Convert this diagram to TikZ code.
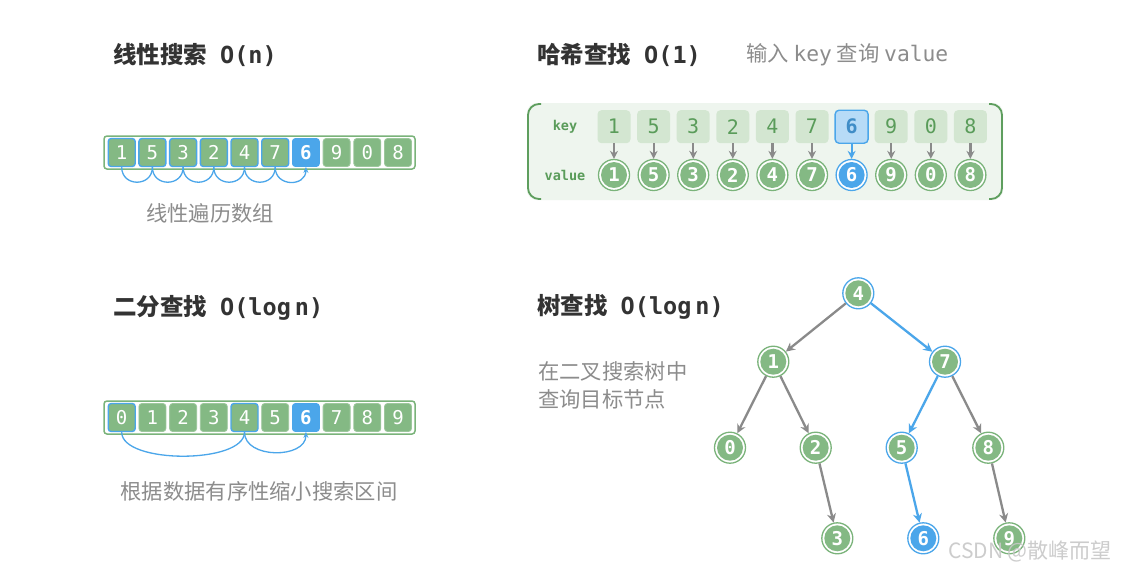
\documentclass[tikz,border=0pt]{standalone}
\usepackage{fontspec}
\setmainfont{Noto Sans CJK SC}
\newfontfamily\mono{DejaVu Sans Mono}
\usetikzlibrary{arrows.meta}
\definecolor{G}{HTML}{84B984}
\definecolor{Gline}{HTML}{7AB37A}
\definecolor{B}{HTML}{4BA6EA}
\definecolor{KeyFill}{HTML}{D3E6D1}
\definecolor{HashBg}{HTML}{EEF5EE}
\definecolor{HashBorder}{HTML}{5E9E5E}
\definecolor{KeyText}{HTML}{5A9C5A}
\definecolor{Arr}{HTML}{8A8A8A}
\definecolor{Title}{HTML}{333333}
\definecolor{Sub}{HTML}{8C8C8C}
\tikzset{
  title/.style={anchor=west, text=Title, font=\fontsize{23.5}{26}\selectfont\bfseries, inner sep=0pt},
  subtxt/.style={text=Sub, font=\fontsize{21.3}{27}\selectfont, inner sep=0pt},
  cell/.style={rectangle, rounded corners=3pt, minimum width=27pt, minimum height=28pt, inner sep=0pt,
     fill=G, draw=G!80!white, line width=0.8pt, text=white, font=\fontsize{19}{19}\selectfont\mono},
  vis/.style={cell, draw=B, line width=1.4pt},
  hit/.style={cell, fill=B, draw=B, font=\fontsize{19}{19}\selectfont\mono\bfseries},
  norm/.style={cell},
  outer/.style={draw=Gline, line width=1.5pt, fill=white, rounded corners=3pt},
  arcline/.style={draw=B, line width=1.3pt},
  arcarrow/.style={arcline, -{Stealth[length=6pt,width=5pt]}},
  keycell/.style={rectangle, rounded corners=4pt, minimum width=33pt, minimum height=33pt, inner sep=0pt,
     fill=KeyFill, text=KeyText, font=\fontsize{20}{20}\selectfont\mono},
  keyhit/.style={keycell, fill=B!40!white, draw=B, line width=1.4pt, text=B!85!black, font=\fontsize{20}{20}\selectfont\mono\bfseries},
  circ/.style={circle, minimum size=31pt, inner sep=0pt, draw=Gline, line width=1.3pt, fill=white,
     text=white, font=\fontsize{19}{19}\selectfont\mono\bfseries,
     path picture={\fill[G] (path picture bounding box.center) circle (13pt);}},
  circvis/.style={circ, draw=B},
  circhit/.style={circ, draw=B, path picture={\fill[B] (path picture bounding box.center) circle (13pt);}},
  garrow/.style={draw=Arr, line width=2.3pt, -{Stealth[length=9pt,width=9pt]}},
  barrow/.style={draw=B, line width=2.3pt, -{Stealth[length=9pt,width=9pt]}},
  hgarrow/.style={draw=Arr, line width=2.2pt, -{Stealth[length=8pt,width=8pt]}},
  hbarrow/.style={draw=B, line width=2.2pt, -{Stealth[length=8pt,width=8pt]}},
  lab/.style={text=KeyText, font=\fontsize{13.5}{14}\selectfont\mono\bfseries},
}
\begin{document}
\begin{tikzpicture}[x=1pt,y=-1pt]
\useasboundingbox (0,0) rectangle (1123,571);
\fill[white] (0,0) rectangle (1123,571);

% ---------- Linear search ----------
\node[title] (t1) at (113,55) {线性搜索\hspace{13pt}{\mono O(n)}};
\draw[outer] (104,136) rectangle (415,169);
\foreach \v/\s [count=\i from 0] in {1/vis,5/vis,3/vis,2/vis,4/vis,7/vis,6/hit,9/norm,0/norm,8/norm}
  \node[\s] (la\i) at ({121.7+30.7*\i},152.5) {\v};
\foreach \i [evaluate=\i as \j using int(\i+1)] in {0,...,4}
  \draw[arcline] (la\i.south) .. controls +(0,20) and +(0,20) .. (la\j.south);
\draw[arcarrow] (la5.south) .. controls +(0,20) and +(0,20) .. (la6.south);
\node[subtxt] (s1) at (210,213) {线性遍历数组};

% ---------- Binary search ----------
\node[title] (t2) at (113,308) {二分查找\hspace{13pt}{\mono O(log\hspace{4pt}n)}};
\draw[outer] (104,401) rectangle (415,434);
\foreach \v/\s [count=\i from 0] in {0/vis,1/norm,2/norm,3/norm,4/vis,5/norm,6/hit,7/norm,8/norm,9/norm}
  \node[\s] (lb\i) at ({121.7+30.7*\i},417.5) {\v};
\draw[arcline] (lb0.south) .. controls +(0,32) and +(0,32) .. (lb4.south);
\draw[arcarrow] (lb4.south) .. controls +(0,27) and +(0,27) .. (lb6.south);
\node[subtxt] (s2) at (259,491) {根据数据有序性缩小搜索区间};

% ---------- Hash search ----------
\node[title] (t3) at (537,55) {哈希查找\hspace{13pt}{\mono O(1)}};
\node[subtxt, anchor=west] (s3) at (746,55) {输入 {\mono key} 查询 {\mono value}};
\fill[HashBg, rounded corners=10pt] (527,103) rectangle (1003,200);
\draw[HashBorder, line width=1.8pt, rounded corners=11pt] (541,104) -- (528,104) -- (528,199) -- (541,199);
\draw[HashBorder, line width=1.8pt, rounded corners=11pt] (989,104) -- (1002,104) -- (1002,199) -- (989,199);
\node[lab] (lk) at (565,126.7) {key};
\node[lab] (lv) at (565,175) {value};
\foreach \v/\s/\c [count=\i from 0] in {1/keycell/circ,5/keycell/circ,3/keycell/circ,2/keycell/circ,4/keycell/circ,7/keycell/circ,6/keyhit/circhit,9/keycell/circ,0/keycell/circ,8/keycell/circ}{
  \node[\s] (k\i) at ({614+39.6*\i},126.7) {\v};
  \node[\c] (v\i) at ({614+39.6*\i},175) {\v};
}
\foreach \i in {0,1,2,3,4,5,7,8,9}
  \draw[hgarrow] (k\i.south) -- (v\i.north);
\draw[hbarrow] (k6.south) -- (v6.north);

% ---------- Tree search ----------
\node[title] (t4) at (537,307) {树查找\hspace{13pt}{\mono O(log\hspace{4pt}n)}};
\node[subtxt, anchor=west, align=left] (s4) at (538,385) {在二叉搜索树中\\[1pt]查询目标节点};
\node[circvis] (n4) at (858.3,293.3) {4};
\node[circ] (n1) at (773.3,361.7) {1};
\node[circvis] (n7) at (945,361.7) {7};
\node[circ] (n0) at (730,447.7) {0};
\node[circ] (n2) at (815.7,447.7) {2};
\node[circvis] (n5) at (901.7,447.7) {5};
\node[circ] (n8) at (988.3,447.7) {8};
\node[circ] (n3) at (837.3,538.3) {3};
\node[circhit] (n6) at (923.3,538.3) {6};
\node[circ] (n9) at (1009.3,538.3) {9};
\draw[garrow] (n4) -- (n1);
\draw[garrow] (n1) -- (n0);
\draw[garrow] (n1) -- (n2);
\draw[garrow] (n2) -- (n3);
\draw[garrow] (n7) -- (n8);
\draw[garrow] (n8) -- (n9);
\draw[barrow] (n4) -- (n7);
\draw[barrow] (n7) -- (n5);
\draw[barrow] (n5) -- (n6);

% watermark
\node[anchor=west, text=black!22, opacity=0.9, font=\fontsize{21}{21}\selectfont, inner sep=0pt] (wm) at (948,551) {CSDN @散峰而望};
\end{tikzpicture}
\end{document}
